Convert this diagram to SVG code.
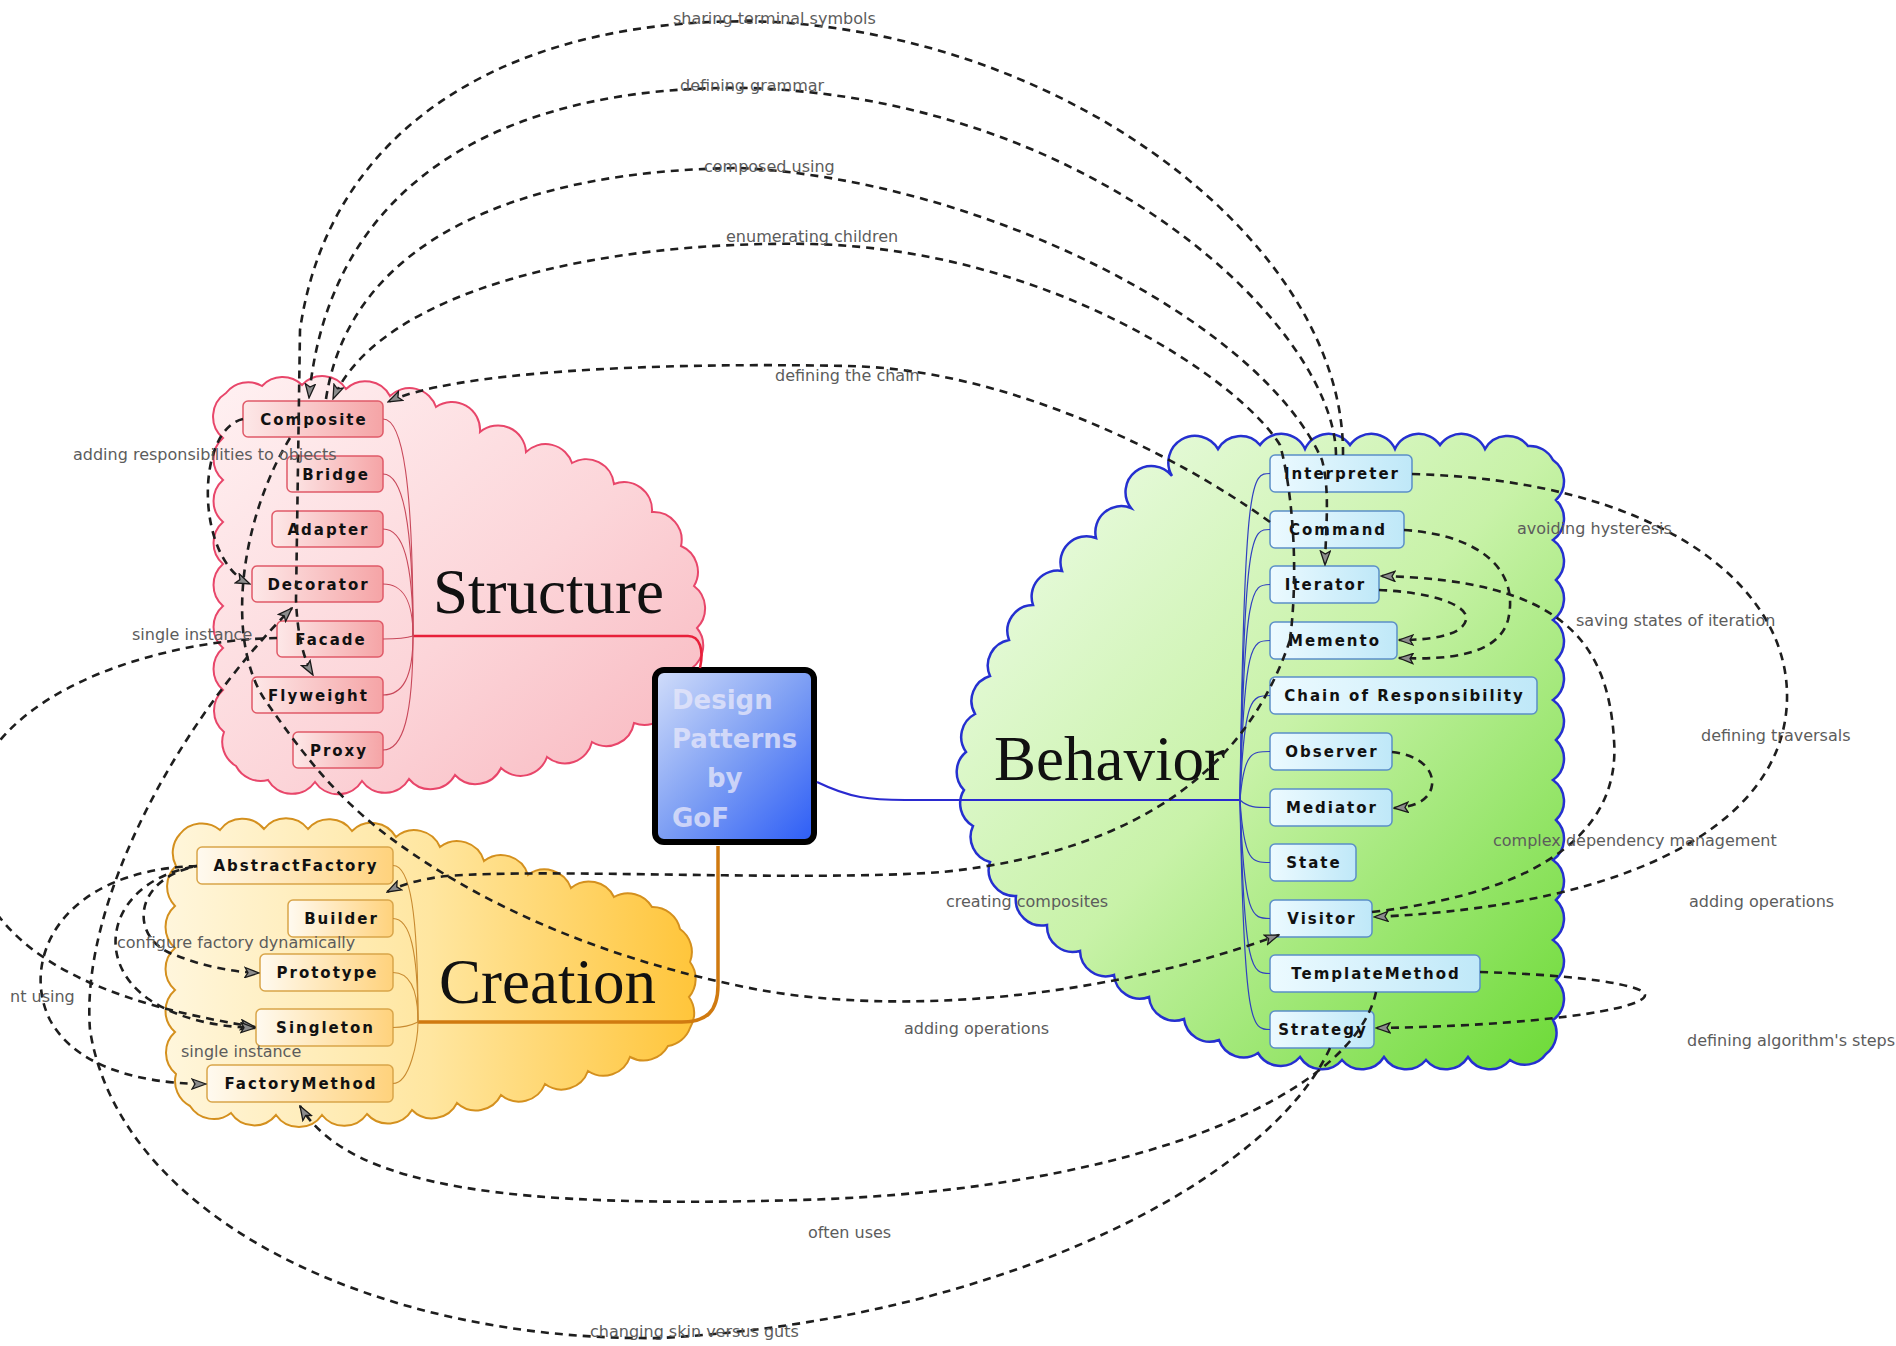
<svg xmlns="http://www.w3.org/2000/svg" width="1896" height="1346" viewBox="0 0 1896 1346">
<defs>
<linearGradient id="gStruct" x1="0" y1="0" x2="1" y2="1"><stop offset="0" stop-color="#fff1f2"/><stop offset="0.55" stop-color="#fcd5d9"/><stop offset="1" stop-color="#f8b6be"/></linearGradient>
<linearGradient id="gCreat" x1="0" y1="0" x2="1" y2="0"><stop offset="0" stop-color="#fff6dc"/><stop offset="0.5" stop-color="#ffe6a0"/><stop offset="1" stop-color="#ffc53a"/></linearGradient>
<linearGradient id="gBehav" x1="0" y1="0" x2="1" y2="1"><stop offset="0" stop-color="#f2fdee"/><stop offset="0.5" stop-color="#c8f2a8"/><stop offset="1" stop-color="#6cda36"/></linearGradient>
<linearGradient id="gSN" x1="0" y1="0" x2="1" y2="0"><stop offset="0" stop-color="#fde8e8"/><stop offset="1" stop-color="#f5a4a6"/></linearGradient>
<linearGradient id="gCN" x1="0" y1="0" x2="1" y2="0"><stop offset="0" stop-color="#fffaf0"/><stop offset="1" stop-color="#ffd27c"/></linearGradient>
<linearGradient id="gBN" x1="0" y1="0" x2="1" y2="0"><stop offset="0" stop-color="#ecfaff"/><stop offset="1" stop-color="#bfe8f8"/></linearGradient>
<linearGradient id="gCenter" x1="0" y1="0" x2="1" y2="1"><stop offset="0" stop-color="#d2defa"/><stop offset="0.5" stop-color="#7e9ff4"/><stop offset="1" stop-color="#2c5cf6"/></linearGradient>
<marker id="arr" viewBox="0 0 16 12" refX="15" refY="6" markerWidth="16" markerHeight="12" markerUnits="userSpaceOnUse" orient="auto">
<path d="M1,1 L15,6 L1,11 L4,6 Z" fill="#8c8c8c" stroke="#1a1a1a" stroke-width="1.3" stroke-dasharray="none"/>
</marker>
<style>
.cloudS{fill:url(#gStruct);stroke:#e8466a;stroke-width:2}
.cloudC{fill:url(#gCreat);stroke:#d4901e;stroke-width:2}
.cloudB{fill:url(#gBehav);stroke:#2530d0;stroke-width:2.5}
.title{font-family:"Liberation Serif",serif;font-size:63px;fill:#111}
.sn{fill:url(#gSN);stroke:#e05a68;stroke-width:1.5}
.cn{fill:url(#gCN);stroke:#d9a54a;stroke-width:1.5}
.bn{fill:url(#gBN);stroke:#5b8fc7;stroke-width:1.5}
.nt{font-family:"DejaVu Sans",sans-serif;font-weight:bold;font-size:15px;letter-spacing:2px;fill:#111;text-anchor:middle}
.ct{font-family:"DejaVu Sans",sans-serif;font-weight:bold;font-size:26px;fill:#e8e8fa;opacity:0.75}
.fanS{fill:none;stroke:#c8485a;stroke-width:1.1}
.fanC{fill:none;stroke:#c88a30;stroke-width:1.1}
.fanB{fill:none;stroke:#3040c0;stroke-width:1.2}
.link{fill:none;stroke:#1e1e1e;stroke-width:2.6;stroke-dasharray:8 6;marker-end:url(#arr)}
.lbl{font-family:"DejaVu Sans",sans-serif;font-size:16px;fill:#5c5c5c}
</style>
</defs>
<rect width="1896" height="1346" fill="#ffffff"/>

<g id="structure">
<path class="cloudS" d="M226,393 A28,28 0 0 1 262,386 A28,28 0 0 1 302,385 A28,28 0 0 1 346,389 A28,28 0 0 1 390,396 A28,28 0 0 1 436,407 A28,28 0 0 1 480,432 A28,28 0 0 1 526,452 A28,28 0 0 1 572,463 A28,28 0 0 1 614,484 A28,28 0 0 1 652,512 A28,28 0 0 1 681,546 A28,28 0 0 1 694,586 A28,28 0 0 1 697,628 A28,28 0 0 1 692,668 A28,28 0 0 1 672,700 A28,28 0 0 1 634,723 A28,28 0 0 1 592,742 A28,28 0 0 1 547,757 A28,28 0 0 1 501,768 A28,28 0 0 1 455,775 A28,28 0 0 1 409,779 A28,28 0 0 1 362,781 A28,28 0 0 1 315,782 A28,28 0 0 1 268,780 A28,28 0 0 1 236,766 A28,28 0 0 1 224,732 A28,28 0 0 1 223,690 A28,28 0 0 1 223,648 A28,28 0 0 1 223,606 A28,28 0 0 1 223,564 A28,28 0 0 1 223,522 A28,28 0 0 1 223,480 A28,28 0 0 1 223,438 A28,28 0 0 1 226,393 Z"/>
<text class="title" x="433" y="613">Structure</text>
</g>

<g id="creation">
<path class="cloudC" d="M180,834 A28,28 0 0 1 220,830 A28,28 0 0 1 264,829 A28,28 0 0 1 308,829 A28,28 0 0 1 352,831 A28,28 0 0 1 396,837 A28,28 0 0 1 440,847 A28,28 0 0 1 484,861 A28,28 0 0 1 528,875 A28,28 0 0 1 571,888 A28,28 0 0 1 614,897 A28,28 0 0 1 652,907 A28,28 0 0 1 680,929 A28,28 0 0 1 690,962 A28,28 0 0 1 689,997 A28,28 0 0 1 690,1028 A28,28 0 0 1 668,1046 A28,28 0 0 1 630,1057 A28,28 0 0 1 588,1071 A28,28 0 0 1 545,1084 A28,28 0 0 1 501,1095 A28,28 0 0 1 457,1103 A28,28 0 0 1 412,1110 A28,28 0 0 1 367,1114 A28,28 0 0 1 322,1115 A28,28 0 0 1 276,1115 A28,28 0 0 1 231,1113 A28,28 0 0 1 190,1106 A28,28 0 0 1 176,1074 A28,28 0 0 1 175,1032 A28,28 0 0 1 175,990 A28,28 0 0 1 175,948 A28,28 0 0 1 175,906 A28,28 0 0 1 176,866 A28,28 0 0 1 180,834 Z"/>
<text class="title" x="439" y="1003">Creation</text>
</g>

<g id="behavior">
<path class="cloudB" d="M1218,449 A26,26 0 0 1 1260,445 A26,26 0 0 1 1305,449 A26,26 0 0 1 1350,445 A26,26 0 0 1 1395,449 A26,26 0 0 1 1440,445 A26,26 0 0 1 1485,449 A26,26 0 0 1 1528,446 A26,26 0 0 1 1553,460 A26,26 0 0 1 1556,500 A26,26 0 0 1 1553,540 A26,26 0 0 1 1556,580 A26,26 0 0 1 1553,620 A26,26 0 0 1 1556,660 A26,26 0 0 1 1553,700 A26,26 0 0 1 1556,740 A26,26 0 0 1 1553,780 A26,26 0 0 1 1556,820 A26,26 0 0 1 1553,860 A26,26 0 0 1 1556,900 A26,26 0 0 1 1553,940 A26,26 0 0 1 1556,980 A26,26 0 0 1 1553,1020 A26,26 0 0 1 1546,1054 A26,26 0 0 1 1510,1060 A26,26 0 0 1 1468,1057 A26,26 0 0 1 1426,1060 A26,26 0 0 1 1384,1057 A26,26 0 0 1 1342,1060 A26,26 0 0 1 1300,1057 A26,26 0 0 1 1258,1053 A26,26 0 0 1 1219,1040 A26,26 0 0 1 1184,1019 A26,26 0 0 1 1149,997 A26,26 0 0 1 1114,975 A26,26 0 0 1 1080,951 A26,26 0 0 1 1047,925 A26,26 0 0 1 1016,896 A26,26 0 0 1 990,862 A26,26 0 0 1 973,826 A26,26 0 0 1 964,790 A26,26 0 0 1 966,752 A26,26 0 0 1 975,714 A26,26 0 0 1 990,676 A26,26 0 0 1 1009,640 A26,26 0 0 1 1033,605 A26,26 0 0 1 1062,571 A26,26 0 0 1 1096,538 A26,26 0 0 1 1131,508 A26,26 0 0 1 1172,476 A26,26 0 0 1 1218,449 Z"/>
<text class="title" x="994" y="780">Behavior</text>
</g>

<g id="center">
<rect x="655" y="670" width="159" height="172" rx="9" fill="url(#gCenter)" stroke="#000" stroke-width="6"/>
<text class="ct" x="672" y="709">Design</text>
<text class="ct" x="672" y="748">Patterns</text>
<text class="ct" x="707" y="787">by</text>
<text class="ct" x="672" y="827">GoF</text>
</g>

<g id="n-composite"><rect class="sn" x="243" y="401" width="140" height="36" rx="5"/><text class="nt" x="314" y="424.5">Composite</text></g>
<g id="n-bridge"><rect class="sn" x="287" y="456" width="96" height="36" rx="5"/><text class="nt" x="336" y="479.5">Bridge</text></g>
<g id="n-adapter"><rect class="sn" x="272" y="511" width="111" height="36" rx="5"/><text class="nt" x="328.5" y="534.5">Adapter</text></g>
<g id="n-decorator"><rect class="sn" x="252" y="566" width="131" height="36" rx="5"/><text class="nt" x="318.5" y="589.5">Decorator</text></g>
<g id="n-facade"><rect class="sn" x="277" y="621" width="106" height="36" rx="5"/><text class="nt" x="331" y="644.5">Facade</text></g>
<g id="n-flyweight"><rect class="sn" x="252" y="677" width="131" height="36" rx="5"/><text class="nt" x="318.5" y="700.5">Flyweight</text></g>
<g id="n-proxy"><rect class="sn" x="293" y="732" width="90" height="36" rx="5"/><text class="nt" x="339" y="755.5">Proxy</text></g>

<g id="n-abstractfactory"><rect class="cn" x="197" y="847" width="196" height="37" rx="5"/><text class="nt" x="296" y="871">AbstractFactory</text></g>
<g id="n-builder"><rect class="cn" x="288" y="900" width="105" height="37" rx="5"/><text class="nt" x="341.5" y="924">Builder</text></g>
<g id="n-prototype"><rect class="cn" x="260" y="954" width="133" height="37" rx="5"/><text class="nt" x="327.5" y="978">Prototype</text></g>
<g id="n-singleton"><rect class="cn" x="256" y="1009" width="137" height="37" rx="5"/><text class="nt" x="325.5" y="1033">Singleton</text></g>
<g id="n-factorymethod"><rect class="cn" x="207" y="1065" width="186" height="37" rx="5"/><text class="nt" x="301" y="1089">FactoryMethod</text></g>

<g id="n-interpreter"><rect class="bn" x="1270" y="455" width="142" height="37" rx="5"/><text class="nt" x="1342" y="479">Interpreter</text></g>
<g id="n-command"><rect class="bn" x="1270" y="511" width="134" height="37" rx="5"/><text class="nt" x="1338" y="535">Command</text></g>
<g id="n-iterator"><rect class="bn" x="1270" y="566" width="109" height="37" rx="5"/><text class="nt" x="1325.5" y="590">Iterator</text></g>
<g id="n-memento"><rect class="bn" x="1270" y="622" width="127" height="37" rx="5"/><text class="nt" x="1334.5" y="646">Memento</text></g>
<g id="n-chain"><rect class="bn" x="1270" y="677" width="267" height="37" rx="5"/><text class="nt" x="1404.5" y="701">Chain of Responsibility</text></g>
<g id="n-observer"><rect class="bn" x="1270" y="733" width="122" height="37" rx="5"/><text class="nt" x="1332" y="757">Observer</text></g>
<g id="n-mediator"><rect class="bn" x="1270" y="789" width="122" height="37" rx="5"/><text class="nt" x="1332" y="813">Mediator</text></g>
<g id="n-state"><rect class="bn" x="1270" y="844" width="86" height="37" rx="5"/><text class="nt" x="1314" y="868">State</text></g>
<g id="n-visitor"><rect class="bn" x="1270" y="900" width="102" height="37" rx="5"/><text class="nt" x="1322" y="924">Visitor</text></g>
<g id="n-templatemethod"><rect class="bn" x="1270" y="955" width="210" height="37" rx="5"/><text class="nt" x="1376" y="979">TemplateMethod</text></g>
<g id="n-strategy"><rect class="bn" x="1270" y="1011" width="104" height="37" rx="5"/><text class="nt" x="1323" y="1035">Strategy</text></g>

<g id="connectors">
<g id="tree-edges">
<path fill="none" stroke="#e8203a" stroke-width="2.6" d="M413,636 L688,636 C700,636 704,650 700,668"/>
<path fill="none" stroke="#d07a10" stroke-width="3.5" d="M718,846 L718,985 C718,1012 706,1022 682,1022 L418,1022"/>
<path fill="none" stroke="#2a2ad0" stroke-width="2.2" d="M817,782 C850,798 870,800 905,800 L1240,800"/>
<path class="fanS" d="M383,419 C403,419 413,484 413,636"/>
<path class="fanS" d="M383,474 C403,474 413,523 413,636"/>
<path class="fanS" d="M383,529 C403,529 413,561 413,636"/>
<path class="fanS" d="M383,584 C403,584 413,600 413,636"/>
<path class="fanS" d="M383,639 C400,639 410,637 413,636"/>
<path class="fanS" d="M383,695 C403,695 413,677 413,636"/>
<path class="fanS" d="M383,750 C403,750 413,716 413,636"/>
<path class="fanC" d="M393,865.5 C410,865.5 418,912 418,1022"/>
<path class="fanC" d="M393,918.5 C410,918.5 418,950 418,1022"/>
<path class="fanC" d="M393,972.5 C410,972.5 418,990 418,1022"/>
<path class="fanC" d="M393,1027.5 C405,1027.5 414,1024 418,1022"/>
<path class="fanC" d="M393,1083.5 C410,1083.5 418,1040 418,1022"/>
<path class="fanB" d="M1240,800 C1244,473.5 1252,473.5 1270,473.5"/>
<path class="fanB" d="M1240,800 C1244,529.5 1252,529.5 1270,529.5"/>
<path class="fanB" d="M1240,800 C1244,584.5 1252,584.5 1270,584.5"/>
<path class="fanB" d="M1240,800 C1244,640.5 1252,640.5 1270,640.5"/>
<path class="fanB" d="M1240,800 C1244,695.5 1252,695.5 1270,695.5"/>
<path class="fanB" d="M1240,800 C1244,751.5 1252,751.5 1270,751.5"/>
<path class="fanB" d="M1240,800 C1248,807.5 1256,807.5 1270,807.5"/>
<path class="fanB" d="M1240,800 C1244,862.5 1252,862.5 1270,862.5"/>
<path class="fanB" d="M1240,800 C1244,918.5 1252,918.5 1270,918.5"/>
<path class="fanB" d="M1240,800 C1244,973.5 1252,973.5 1270,973.5"/>
<path class="fanB" d="M1240,800 C1244,1029.5 1252,1029.5 1270,1029.5"/>
</g>
<g id="links">
<path class="link" d="M1343,455 C1345,250 1080,40 775,22 C520,12 330,120 300,330 L296,600 Q298,650 313,675"/>
<path class="link" d="M1336,455 C1335,330 1100,100 750,88 C520,84 330,170 309,398"/>
<path class="link" d="M326,399 C350,240 520,170 740,168 C980,180 1260,320 1322,460 C1330,490 1326,525 1325,565"/>
<path class="link" d="M1290,640 C1300,560 1290,480 1280,445 C1240,380 1050,250 812,244 C600,240 380,290 333,399"/>
<path class="link" d="M1290,640 C1250,760 1150,850 943,872 C800,882 550,868 447,876 Q410,880 387,892"/>
<path class="link" d="M1270,522 C1170,450 1000,368 846,366 C650,362 450,372 388,402"/>
<path class="link" d="M243,419 C195,430 195,560 250,584"/>
<path class="link" d="M290,438 C240,520 225,640 265,700 C300,750 330,790 380,830 C470,900 600,960 760,990 C900,1015 1100,1000 1279,935"/>
<path class="link" d="M1330,1048 C1270,1180 1000,1320 660,1338 C380,1342 120,1220 90,1030 C80,900 180,720 292,608"/>
<path class="link" d="M1376,992 C1355,1090 1150,1190 800,1200 C520,1208 350,1190 300,1106"/>
<path class="link" d="M277,638 C150,640 -40,700 -30,830 C-30,970 150,1010 255,1027"/>
<path class="link" d="M197,866 C60,870 20,960 50,1020 C80,1075 160,1084 206,1084"/>
<path class="link" style="stroke-dashoffset:5" d="M197,866 C130,880 130,940 175,955 C200,965 230,972 259,973"/>
<path class="link" style="stroke-dashoffset:10" d="M197,866 C110,880 90,960 150,1000 C180,1020 220,1027 255,1028"/>
<path class="link" d="M1412,474 C1650,480 1790,580 1787,700 C1784,820 1640,905 1374,917"/>
<path class="link" d="M1372,912 C1560,890 1620,820 1614,740 C1608,640 1560,580 1381,576"/>
<path class="link" d="M1404,530 C1480,535 1520,570 1508,620 C1498,655 1450,660 1399,658"/>
<path class="link" d="M1379,590 C1430,592 1470,605 1466,620 C1462,636 1430,640 1399,640"/>
<path class="link" d="M1392,752 C1420,755 1434,770 1432,785 C1430,800 1415,807 1394,808"/>
<path class="link" d="M1480,972 C1580,975 1645,985 1645,995 C1645,1010 1530,1026 1376,1028"/>
</g>
<g id="link-labels">
<text class="lbl" x="673" y="24">sharing terminal symbols</text>
<text class="lbl" x="680" y="91">defining grammar</text>
<text class="lbl" x="704" y="172">composed using</text>
<text class="lbl" x="726" y="242">enumerating children</text>
<text class="lbl" x="775" y="381">defining the chain</text>
<text class="lbl" x="73" y="460">adding responsibilities to objects</text>
<text class="lbl" x="132" y="640">single instance</text>
<text class="lbl" x="117" y="948">configure factory dynamically</text>
<text class="lbl" x="10" y="1002">nt using</text>
<text class="lbl" x="181" y="1057">single instance</text>
<text class="lbl" x="946" y="907">creating composites</text>
<text class="lbl" x="904" y="1034">adding operations</text>
<text class="lbl" x="808" y="1238">often uses</text>
<text class="lbl" x="590" y="1337">changing skin versus guts</text>
<text class="lbl" x="1517" y="534">avoiding hysteresis</text>
<text class="lbl" x="1576" y="626">saving states of iteration</text>
<text class="lbl" x="1701" y="741">defining traversals</text>
<text class="lbl" x="1493" y="846">complex dependency management</text>
<text class="lbl" x="1689" y="907">adding operations</text>
<text class="lbl" x="1687" y="1046">defining algorithm's steps</text>
</g>
</g>
</svg>
